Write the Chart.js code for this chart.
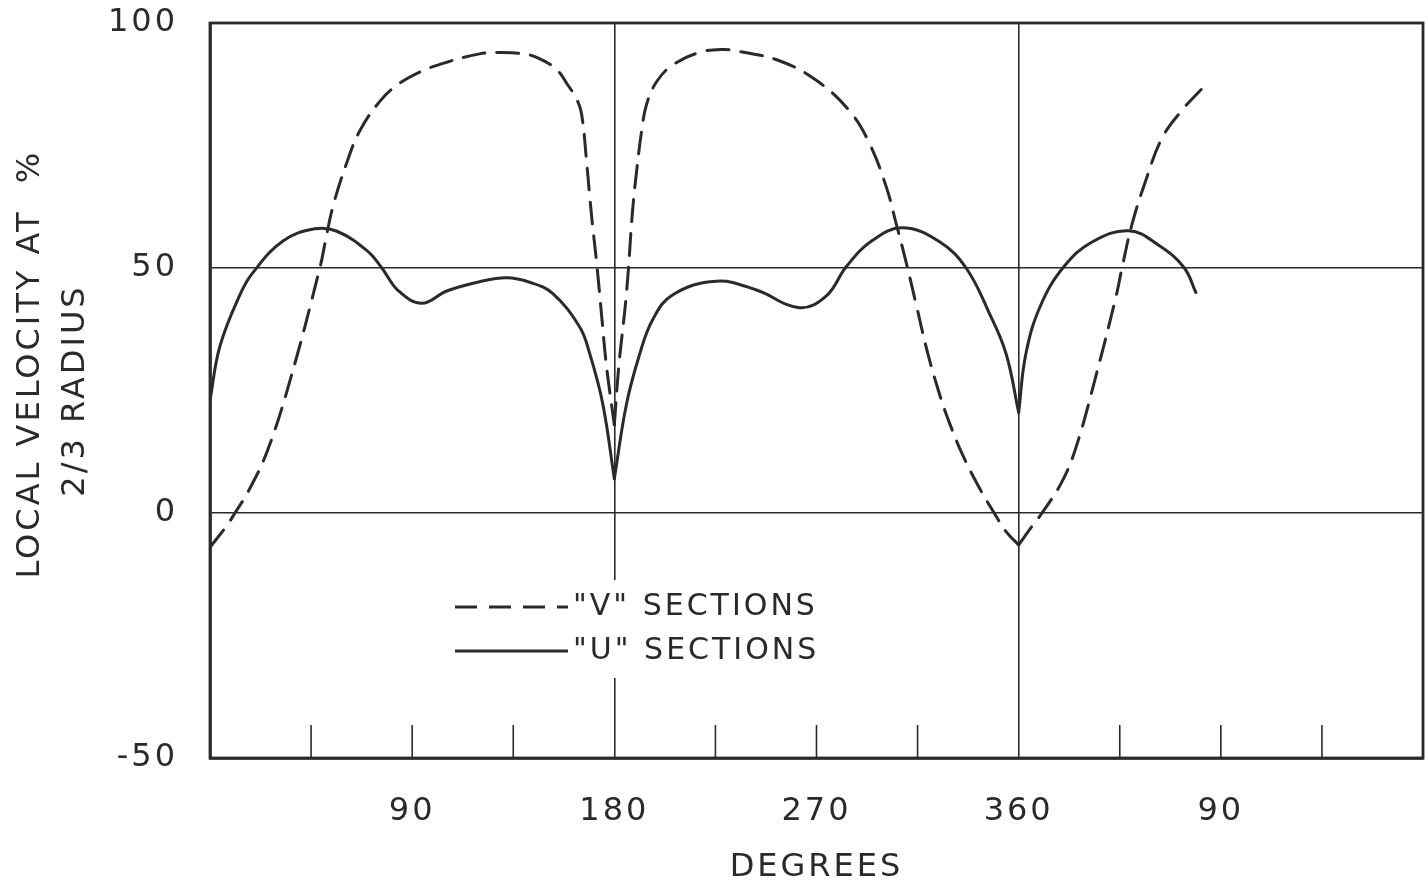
<!DOCTYPE html>
<html>
<head>
<meta charset="utf-8">
<script src="https://cdn.jsdelivr.net/npm/chart.js@4.4.1/dist/chart.umd.min.js"></script>
<style>
html,body{margin:0;padding:0;background:#fff;overflow:hidden}
#wrap{width:1428px;height:891px}
</style>
</head>
<body>
<div id="wrap"><canvas id="c" width="1428" height="891"></canvas></div>
<script>
// ---- data ----
const vDegrees = [0, 7.6, 11.1, 16.9, 25.3, 35.6, 48.9, 51.6, 54.7, 60.9, 66.7, 75.6, 83.2, 93.4, 105.4, 120, 129, 137.9, 145.4, 154.3, 159.2, 163.2, 165.4, 167.7, 169, 170.3, 172.1, 174.3, 176.5, 180,
  182, 185.4, 188.1, 189.9, 192.1, 194.3, 198.8, 205.9, 217.9, 228.1, 235.7, 253.5, 269.9, 284.6, 293.5, 301.1, 305.5, 310, 314.4, 319.3, 324.6, 329.1, 334.9, 342.4, 349.1, 354.4, 360,
  365.5, 370.4, 379.3, 385.6, 394.4, 403.3, 406, 410.5, 416.7, 423.8, 432.7, 441.6];
const vValues = [-7, -2.5, 0, 4.3, 12.4, 27, 50, 56, 62.5, 71.5, 78, 84, 87.3, 90, 92, 93.7, 94, 93.8, 93, 90.5, 87.4, 84.5, 81.5, 71.5, 64.8, 58.7, 51.2, 40.5, 30, 18,
  30, 44.8, 61.6, 69.7, 77.8, 83.3, 88, 91.4, 94, 94.6, 94.2, 92.3, 88.3, 82.1, 75.5, 66.5, 59, 51, 42.5, 33, 24.5, 18.5, 12, 5.2, 0, -3.8, -6.5,
  -3, 0, 6.4, 13.5, 28, 44.1, 50, 59, 68, 76.5, 82.2, 86.6];

const uDegrees = [0, 4.4, 13.3, 19, 32.5, 46.7, 56.5, 70, 76.5, 84, 94.3, 105.4, 120, 132, 142.3, 152.5, 164.5, 169, 174.8, 180,
  185.4, 191.2, 197, 205.9, 225.5, 243.3, 262.4, 274.4, 283.3, 294.8, 308.2, 324.6, 336.6, 346.9, 354.4, 360,
  363.3, 370, 380.2, 392.7, 409.1, 422.5, 433.6, 438.9];
const uValues = [23, 34, 44.5, 49, 55.5, 58, 57.5, 53.5, 50, 45.3, 42.8, 45.3, 47.2, 48, 47.1, 44.8, 38, 32.6, 22.4, 7,
  22.2, 32.3, 39.4, 44.5, 47.3, 45.5, 41.9, 44.3, 50.3, 55.6, 58.2, 55.4, 50, 40.8, 32.5, 20.5,
  32.7, 42.6, 50.3, 55.3, 57.6, 54.6, 50.1, 45];

const cuspDegrees = [180, 360];
const xTickValues = [90, 180, 270, 360, 450];
const xTickLabels = ['90', '180', '270', '360', '90'];
const seriesNames = ['"V" SECTIONS', '"U" SECTIONS'];
const yTitleLines = ['    LOCAL VELOCITY AT  %', '2/3 RADIUS'];
const xTitle = 'DEGREES';

// ---- styling ----
const ink = '#2a2a2a';
const FONT = 'DejaVu Sans';
const SPACING = '3px';
const seriesDash = [[22, 12], []];

function splitAtCusps(xs, ys) {
  const segs = [];
  let cur = [];
  xs.forEach((x, i) => {
    cur.push({x: x, y: ys[i]});
    if (cuspDegrees.includes(x) && cur.length > 1) {
      segs.push(cur);
      cur = [{x: x, y: ys[i]}];
    }
  });
  if (cur.length > 1) segs.push(cur);
  return segs;
}

const datasets = [];
[[vDegrees, vValues], [uDegrees, uValues]].forEach((pair, si) => {
  splitAtCusps(pair[0], pair[1]).forEach(seg => {
    datasets.push({
      label: seriesNames[si],
      data: seg,
      borderColor: ink,
      borderWidth: 3,
      borderDash: seriesDash[si],
      pointRadius: 0,
      fill: false,
      tension: 0.4,
      borderCapStyle: 'round'
    });
  });
});

const decor = {
  id: 'decor',
  beforeUpdate(chart) { chart.ctx.letterSpacing = SPACING; },
  beforeDraw(chart) { chart.ctx.letterSpacing = SPACING; },
  beforeDatasetsDraw(chart) {
    const {ctx, chartArea: a, scales: {x}} = chart;
    ctx.save();
    ctx.strokeStyle = ink;
    ctx.lineWidth = 1.6;
    x.ticks.forEach(t => {
      if (t.value <= x.min || t.value >= x.max || cuspDegrees.includes(t.value)) return;
      const px = x.getPixelForValue(t.value);
      ctx.beginPath();
      ctx.moveTo(px, a.bottom);
      ctx.lineTo(px, a.bottom - 33);
      ctx.stroke();
    });
    ctx.lineWidth = 2.8;
    ctx.strokeRect(a.left, a.top, a.right - a.left, a.bottom - a.top);
    ctx.restore();
  },
  afterDatasetsDraw(chart) {
    const {ctx, chartArea: a} = chart;
    ctx.save();
    ctx.letterSpacing = SPACING;
    const x0 = a.left + 245, x1 = a.left + 358, tx = a.left + 363;
    const rows = [a.top + 584, a.top + 628];
    ctx.fillStyle = '#fff';
    ctx.fillRect(tx - 2, rows[0] - 27, 262, rows[1] - rows[0] + 54);
    ctx.font = '30px "' + FONT + '"';
    ctx.textBaseline = 'middle';
    ctx.textAlign = 'left';
    seriesNames.forEach((name, i) => {
      ctx.strokeStyle = ink;
      ctx.lineWidth = 3;
      ctx.setLineDash(seriesDash[i]);
      ctx.beginPath();
      ctx.moveTo(x0, rows[i]);
      ctx.lineTo(x1, rows[i]);
      ctx.stroke();
      ctx.setLineDash([]);
      ctx.fillStyle = ink;
      ctx.fillText(name, tx, rows[i]);
    });
    ctx.restore();
  }
};

Chart.defaults.font.family = FONT;
Chart.defaults.color = ink;

new Chart(document.getElementById('c'), {
  type: 'line',
  data: {datasets: datasets},
  plugins: [decor],
  options: {
    responsive: false,
    animation: false,
    devicePixelRatio: 1,
    layout: {padding: {top: 23, right: 5, left: 0, bottom: 0}},
    plugins: {legend: {display: false}, tooltip: {enabled: false}},
    scales: {
      x: {
        type: 'linear',
        min: 0,
        max: 540,
        afterFit(scale) { scale.height = 133; scale.paddingLeft = 0; scale.paddingRight = 0; },
        border: {display: true, color: ink, width: 2.8},
        grid: {
          drawTicks: false,
          lineWidth: 1.6,
          color: ctx => (ctx.tick && cuspDegrees.includes(ctx.tick.value)) ? ink : 'rgba(0,0,0,0)'
        },
        ticks: {
          stepSize: 45,
          autoSkip: false,
          maxRotation: 0,
          padding: 34,
          font: {size: 32},
          color: ink,
          callback: v => { const i = xTickValues.indexOf(v); return i >= 0 ? xTickLabels[i] : ''; }
        },
        title: {display: true, text: xTitle, font: {size: 32}, color: ink, padding: {top: 0, bottom: 4}}
      },
      y: {
        min: -50,
        max: 100,
        afterFit(scale) { scale.width = 210; scale.paddingTop = 0; scale.paddingBottom = 0; },
        border: {display: true, color: ink, width: 2.8},
        grid: {drawTicks: false, lineWidth: 1.6, color: ink},
        ticks: {stepSize: 50, padding: 32, font: {size: 32}, color: ink},
        title: {display: true, text: yTitleLines, font: {size: 32, lineHeight: 1.4}, color: ink, padding: {top: 8, bottom: 0}}
      }
    }
  }
});
</script>
</body>
</html>
